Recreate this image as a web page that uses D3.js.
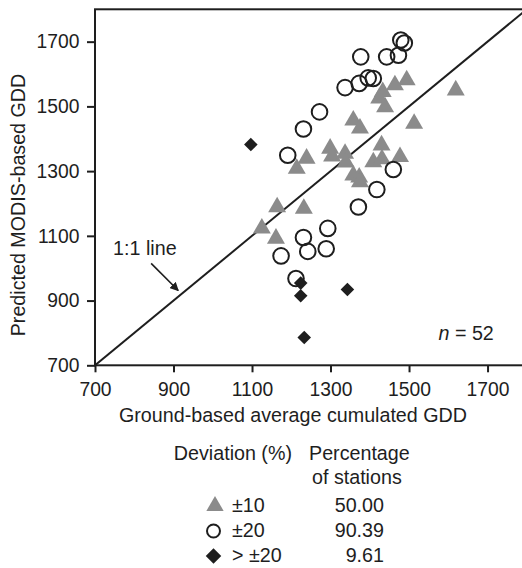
<!DOCTYPE html>
<html>
<head>
<meta charset="utf-8">
<script src="https://cdn.jsdelivr.net/npm/d3@7"></script>
<style>
  html, body { margin: 0; padding: 0; background: #fff; }
  svg { display: block; font-family: "Liberation Sans", Arial, sans-serif; }
</style>
</head>
<body>
<svg id="chart" width="522" height="568"></svg>
<script>
// ---- Data (ground-based GDD, predicted MODIS-based GDD) ----
const within10 = [
  [1494,1581],[1464,1566],[1433,1545],[1439,1498],[1424,1525],[1619,1550],
  [1513,1447],[1358,1457],[1375,1432],[1430,1380],[1477,1344],[1409,1328],
  [1431,1337],[1299,1370],[1304,1346],[1337,1354],[1339,1327],[1358,1287],
  [1373,1281],[1375,1266],[1239,1339],[1214,1308],[1164,1189],[1232,1184],
  [1125,1123],[1161,1092]
];
const within20 = [
  [1479,1705],[1488,1696],[1377,1653],[1443,1653],[1473,1658],[1373,1571],
  [1396,1588],[1409,1586],[1337,1558],[1272,1483],[1231,1430],[1191,1349],
  [1460,1305],[1418,1243],[1371,1189],[1293,1123],[1231,1095],[1242,1052],
  [1289,1060],[1174,1038],[1212,968]
];
const beyond20 = [
  [1097,1382],[1224,954],[1224,915],[1343,934],[1233,786]
];
const xTicks = [700, 900, 1100, 1300, 1500, 1700];
const yTicks = [700, 900, 1100, 1300, 1500, 1700];
const xDomain = [700, 1800];
const yDomain = [700, 1800];
const xTitle = "Ground-based average cumulated GDD";
const yTitle = "Predicted MODIS-based GDD";
const legendHeader = ["Deviation (%)", "Percentage", "of stations"];
const legendLabels = ["\u00b110", "\u00b120", "> \u00b120"];
const legendValues = ["50.00", "90.39", "9.61"];
const nLabel = "52";
// annotation anchors in data space
const lineLabelPos = [827, 1062];
const arrowFrom = [843, 1015];
const arrowTo = [912, 931];
const nPos = [1716, 777];

// ---- Layout ----
const svg = d3.select("#chart");
const mLeft = 95, mRight = 526.8, mTop = 9.3, mBottom = 365.3;
const ink = "#1e1e1e";
const gray = "#8b8b8b";
const fsTick = 19.3;
const fs = 19.7;

const x = d3.scaleLinear().domain(xDomain).range([mLeft, mRight]);
const y = d3.scaleLinear().domain(yDomain).range([mBottom, mTop]);

const defs = svg.append("defs");
defs.append("clipPath").attr("id", "clip")
  .append("rect").attr("x", mLeft).attr("y", mTop)
  .attr("width", mRight - mLeft).attr("height", mBottom - mTop);

defs.append("marker")
  .attr("id", "arrow").attr("viewBox", "0 0 10 10")
  .attr("refX", 9).attr("refY", 5)
  .attr("markerWidth", 5.5).attr("markerHeight", 5.5)
  .attr("markerUnits", "strokeWidth")
  .attr("orient", "auto")
  .append("path").attr("d", "M0,0 L10,5 L0,10 z").attr("fill", ink);

// 1:1 line
svg.append("line")
  .attr("clip-path", "url(#clip)")
  .attr("x1", x(xDomain[0])).attr("y1", y(yDomain[0]))
  .attr("x2", x(xDomain[1])).attr("y2", y(yDomain[1]))
  .attr("stroke", ink).attr("stroke-width", 2);

// axes
const xAxis = svg.append("g").attr("transform", `translate(0,${mBottom})`)
  .call(d3.axisBottom(x).tickValues(xTicks).tickSize(7).tickPadding(10.5).tickFormat(d3.format("d")));
const yAxis = svg.append("g").attr("transform", `translate(${mLeft},0)`)
  .call(d3.axisLeft(y).tickValues(yTicks).tickSize(8).tickPadding(7.5).tickFormat(d3.format("d")));
[xAxis, yAxis].forEach(g => {
  g.select(".domain").remove();
  g.selectAll(".tick line").attr("stroke", ink).attr("stroke-width", 2);
  g.selectAll(".tick text").attr("fill", ink).style("font-size", fsTick + "px")
    .style("font-family", "'Liberation Sans', Arial, sans-serif");
});

// frame
svg.append("rect")
  .attr("x", mLeft).attr("y", mTop)
  .attr("width", mRight - mLeft).attr("height", mBottom - mTop)
  .attr("fill", "none").attr("stroke", ink).attr("stroke-width", 2);

// points
const triSym = d3.symbol().type(d3.symbolTriangle).size(140);
const cirSym = d3.symbol().type(d3.symbolCircle).size(Math.PI * 7.8 * 7.8);
const diaSym = d3.symbol().type(d3.symbolSquare).size(92);

const pts = svg.append("g").attr("clip-path", "url(#clip)");
pts.selectAll("path.tri").data(within10).join("path")
  .attr("class", "tri")
  .attr("d", triSym)
  .attr("transform", d => `translate(${x(d[0])},${y(d[1])})`)
  .attr("fill", gray);
pts.selectAll("path.cir").data(within20).join("path")
  .attr("class", "cir")
  .attr("d", cirSym)
  .attr("transform", d => `translate(${x(d[0])},${y(d[1])})`)
  .attr("fill", "none").attr("stroke", ink).attr("stroke-width", 2);
pts.selectAll("path.dia").data(beyond20).join("path")
  .attr("class", "dia")
  .attr("d", diaSym)
  .attr("transform", d => `translate(${x(d[0])},${y(d[1])}) rotate(45)`)
  .attr("fill", ink);

// annotations
svg.append("text")
  .attr("x", x(lineLabelPos[0])).attr("y", y(lineLabelPos[1]))
  .attr("text-anchor", "middle").attr("dy", "0.35em")
  .attr("fill", ink).style("font-size", fs + "px")
  .text("1:1 line");
svg.append("line")
  .attr("x1", x(arrowFrom[0])).attr("y1", y(arrowFrom[1]))
  .attr("x2", x(arrowTo[0])).attr("y2", y(arrowTo[1]))
  .attr("stroke", ink).attr("stroke-width", 1.6)
  .attr("marker-end", "url(#arrow)");
const nt = svg.append("text")
  .attr("x", x(nPos[0])).attr("y", y(nPos[1]))
  .attr("text-anchor", "end")
  .attr("fill", ink).style("font-size", fs + "px");
nt.append("tspan").style("font-style", "italic").text("n");
nt.append("tspan").text(" = " + nLabel);

// axis titles
svg.append("text")
  .attr("x", 293).attr("y", 422)
  .attr("text-anchor", "middle").attr("fill", ink).style("font-size", fs + "px")
  .text(xTitle);
svg.append("text")
  .attr("transform", `translate(24.5,205) rotate(-90)`)
  .attr("text-anchor", "middle").attr("fill", ink).style("font-size", fs + "px")
  .text(yTitle);

// legend
const lg = svg.append("g").attr("fill", ink).style("font-size", fs + "px");
lg.append("text").attr("x", 292).attr("y", 460).attr("text-anchor", "end").text(legendHeader[0]);
lg.append("text").attr("x", 309).attr("y", 460).text(legendHeader[1]);
lg.append("text").attr("x", 312).attr("y", 484).text(legendHeader[2]);

const rowsY = [512, 537, 562];
const symCenters = [[215, 506], [213.5, 531], [213.5, 556]];
lg.append("path").attr("d", d3.symbol().type(d3.symbolTriangle).size(130)())
  .attr("transform", `translate(${symCenters[0][0]},${symCenters[0][1]})`).attr("fill", gray);
lg.append("path").attr("d", d3.symbol().type(d3.symbolCircle).size(Math.PI * 6.5 * 6.5)())
  .attr("transform", `translate(${symCenters[1][0]},${symCenters[1][1]})`)
  .attr("fill", "none").attr("stroke", ink).attr("stroke-width", 2);
lg.append("path").attr("d", d3.symbol().type(d3.symbolSquare).size(120)())
  .attr("transform", `translate(${symCenters[2][0]},${symCenters[2][1]}) rotate(45)`).attr("fill", ink);

legendLabels.forEach((t, i) => {
  lg.append("text").attr("x", 232).attr("y", rowsY[i]).text(t);
  lg.append("text").attr("x", 384).attr("y", rowsY[i]).attr("text-anchor", "end").text(legendValues[i]);
});
</script>
</body>
</html>
